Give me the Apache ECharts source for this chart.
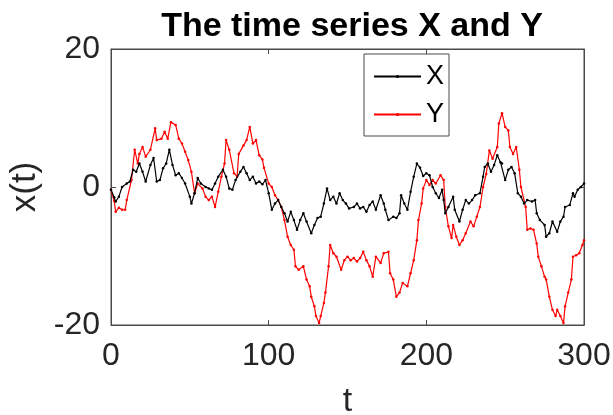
<!DOCTYPE html>
<html>
<head>
<meta charset="utf-8">
<script src="https://cdn.jsdelivr.net/npm/echarts@6/dist/echarts.min.js"></script>
<style>html,body{margin:0;padding:0;background:#fff;}#c{width:613px;height:415px;}</style>
</head>
<body>
<div id="c"></div>
<script>
// ---- data ----
var xTicks = [0, 100, 200, 300];
var yTicks = [-20, 0, 20];

var tX = [0,2,3,5,7,10,12,14,16,18,20,22,25,27,29,31,33,35,37,39,41,43,45,47,50,51,53,55,57,60,62,64,66,68,71,73,75,77,79,82,84,86,88,90,92,94,96,98,100,102,104,106,108,110,112,114,116,118,120,122,124,127,129,131,133,135,137,139,141,143,145,147,149,151,154,156,158,160,162,164,166,168,171,173,174,176,179,181,183,184,186,188,190,192,194,196,198,200,202,204,206,208,210,211,212,214,217,218,221,223,225,227,229,231,234,236,237,239,241,243,245,247,248,250,252,254,256,258,260,262,264,267,269,270,272,275,276,278,280,283,285,287,288,291,293,294,296,298,300];
var valuesX = [-0.4,-1.5,-2.1,-1.4,0,0.5,0.8,2.5,2.2,3.4,2.2,0.8,3.2,4.2,0.8,1,2.7,3.4,5.4,3.2,1.7,2,1.3,0.5,-1.4,-2.4,-0.9,1.3,0.5,0,-0.2,-0.4,0.5,1.5,2.5,1.5,-0.2,-0.4,1,2.2,2.9,2,1,1.5,0.5,0.8,0.4,1,-0.9,-3.3,-2.4,-1.9,-2.9,-3.8,-5,-3.6,-4.8,-6.2,-4.8,-3.8,-5,-6.7,-5.5,-4.5,-4.3,-2.4,-0.2,-1.9,-1.4,-2.4,-0.9,-1.9,-2.4,-3.1,-2.9,-2.4,-3.1,-2.9,-3.6,-2.6,-2.1,-3.3,-1.2,-2.4,-3.3,-4.8,-4.3,-4.5,-3.8,-1.2,-2.4,-3.3,-0.7,1.5,3.4,2.8,1.6,2,1.7,0,-0.9,-1.6,-0.4,-1.9,-3.8,-2.9,-1.4,-3.3,-5,-3.3,-1.9,-2.4,-1.9,-1.2,-0.9,1.5,2.9,3.4,2.2,3.2,4.6,3.6,3.4,1,2.5,2.9,2,-0.9,-1.4,-2.4,-1.9,-2.1,-1.9,-3.8,-4.8,-5.5,-7.2,-6.7,-5,-6.5,-5,-4.3,-2.9,-2.6,-0.9,-1.4,-0.4,0,0.5];

var tY = [0,2,3,5,7,9,10,13,15,17,18,20,22,25,28,29,32,34,36,38,41,43,45,47,49,51,53,55,58,60,62,64,66,68,70,72,73,75,78,80,81,84,86,88,90,92,94,96,97,100,102,104,106,108,110,112,114,116,117,119,122,124,126,127,129,130,132,133,135,136,138,139,141,143,146,148,150,152,154,156,158,160,162,164,166,168,171,173,176,177,179,181,183,185,188,190,192,194,195,197,198,200,202,204,206,209,211,212,214,216,217,219,221,223,225,228,230,232,234,236,238,240,242,245,246,248,250,252,253,255,257,259,260,263,264,266,268,270,271,273,275,276,278,280,282,283,285,287,288,290,292,293,295,297,299,300];
var valuesY = [-0.4,-2,-3.6,-3,-3.3,-3.3,-1.9,1,5.4,3.4,4.8,5.8,4.4,5.4,8.5,6.8,7,8,7,9.4,9,7,6.3,5.1,3.9,2.2,-0.9,0.5,-0.2,-1.4,-1.9,-1.4,-2.9,-0.7,1.5,3.4,6.8,5.4,2,1.5,4.8,6,6.8,8.7,6.3,6.8,4.6,4,2.8,0.5,0,-1.2,-1.9,-2.9,-4.8,-7.2,-8.4,-9.1,-11.5,-12,-11.5,-13.4,-14.4,-15.9,-17.3,-18.7,-19.7,-18.7,-16.8,-15.3,-11.5,-8.4,-9.6,-10.1,-12,-10.6,-10.1,-10.6,-10.3,-10.8,-10.3,-9.4,-10.6,-11.5,-13,-10.1,-11,-9.6,-9.4,-12.5,-13.4,-15.9,-15.3,-13.9,-14.4,-12.5,-10.6,-7.7,-4.8,-2.4,-0.2,1,0.3,1,0.5,1.7,1,-2.9,-5.7,-7.4,-5.5,-7.2,-8.4,-7.7,-6.7,-5,-5.7,-4.3,-2.9,0,1.9,5.3,4.1,5.8,9.2,10.7,8.7,8.2,5.8,4.8,5.8,2.5,0,-2.9,-6.2,-6,-6.2,-8.2,-10.1,-11.5,-13,-13.4,-15.9,-17.8,-18.7,-17.8,-18.7,-19.7,-17.3,-15.3,-13.4,-10.1,-9.9,-9.6,-8.4,-7.7];

var seriesNames = ['X', 'Y'];
var titleText = 'The time series X and Y';
var xName = 't';
var yName = 'x(t)';

function pairs(t, v) { return t.map(function (ti, i) { return [ti, v[i]]; }); }

var axisColor = '#4a4a4a';
var textColor = '#262626';
var font = 'Liberation Sans, Arial, Helvetica, sans-serif';

var chart = echarts.init(document.getElementById('c'), null, {renderer: 'canvas'});
var option = {
  animation: false,
  backgroundColor: '#fff',
  title: {
    text: titleText,
    left: 347, top: 5, textAlign: 'center',
    textStyle: {fontSize: 34, fontWeight: 'bold', color: '#000', fontFamily: font}
  },
  grid: {left: 111, right: 29, top: 49, bottom: 90, show: true, borderColor: axisColor, borderWidth: 1,
         backgroundColor: 'transparent', containLabel: false, outerBoundsMode: 'none'},
  legend: {
    orient: 'vertical', left: 364, top: 54,
    data: seriesNames,
    itemWidth: 47, itemHeight: 4, itemGap: 11,
    padding: [9, 5, 8, 9],
    borderColor: axisColor, borderWidth: 1, backgroundColor: '#fff',
    textStyle: {fontSize: 27, color: '#000', fontFamily: font},
    selectedMode: false
  },
  xAxis: [{
    type: 'value', min: xTicks[0], max: xTicks[xTicks.length - 1], interval: 100,
    name: xName, nameLocation: 'middle', nameGap: 60,
    nameTextStyle: {fontSize: 34, color: textColor, fontFamily: font},
    axisLine: {show: true, onZero: false, lineStyle: {color: axisColor}},
    axisTick: {show: true, inside: true, length: 5, lineStyle: {color: axisColor}},
    axisLabel: {fontSize: 32, color: textColor, margin: 15, fontFamily: font},
    splitLine: {show: false}
  }, {
    type: 'value', position: 'top', min: xTicks[0], max: xTicks[xTicks.length - 1], interval: 100,
    axisLine: {show: true, onZero: false, lineStyle: {color: axisColor}},
    axisTick: {show: true, inside: true, length: 5, lineStyle: {color: axisColor}},
    axisLabel: {show: false}, splitLine: {show: false}
  }],
  yAxis: [{
    type: 'value', min: yTicks[0], max: yTicks[yTicks.length - 1], interval: 20,
    name: yName, nameLocation: 'middle', nameGap: 63, nameRotate: 90,
    nameTextStyle: {fontSize: 35, color: textColor, fontFamily: font},
    axisLine: {show: true, onZero: false, lineStyle: {color: axisColor}},
    axisTick: {show: true, inside: true, length: 5, lineStyle: {color: axisColor}},
    axisLabel: {fontSize: 32, color: textColor, margin: 11, fontFamily: font},
    splitLine: {show: false}
  }, {
    type: 'value', position: 'right', min: yTicks[0], max: yTicks[yTicks.length - 1], interval: 20,
    axisLine: {show: true, onZero: false, lineStyle: {color: axisColor}},
    axisTick: {show: true, inside: true, length: 5, lineStyle: {color: axisColor}},
    axisLabel: {show: false}, splitLine: {show: false}
  }],
  series: [{
    name: seriesNames[0], type: 'line', data: pairs(tX, valuesX),
    symbol: 'circle', symbolSize: 2.5, showSymbol: true,
    lineStyle: {color: '#000', width: 1.2}, itemStyle: {color: '#000'},
    z: 3
  }, {
    name: seriesNames[1], type: 'line', data: pairs(tY, valuesY),
    symbol: 'circle', symbolSize: 2.5, showSymbol: true,
    lineStyle: {color: '#ff0000', width: 1.2}, itemStyle: {color: '#ff0000'},
    z: 2
  }]
};
chart.setOption(option);
</script>
</body>
</html>
